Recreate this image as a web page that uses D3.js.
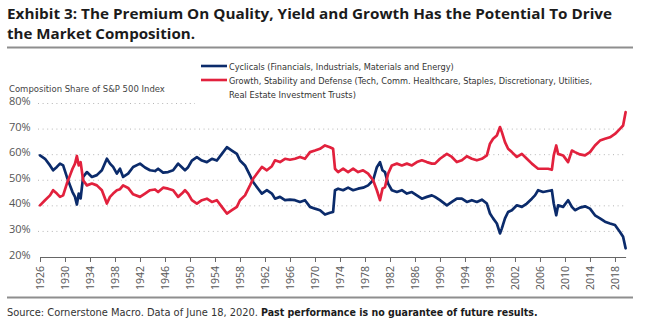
<!DOCTYPE html>
<html>
<head>
<meta charset="utf-8">
<script src="https://cdnjs.cloudflare.com/ajax/libs/d3/7.8.5/d3.min.js"></script>
<style>
    body { margin: 0; background: #fff; }
    text { font-family: "Open Sans", "Liberation Sans", sans-serif; }
    .narrow { font-family: "Liberation Sans Narrow", "DejaVu Sans Condensed", "Open Sans", sans-serif; }
</style>
</head>
<body>
<div id="chart"></div>
<script>
// decimal years
const years = [1926.0, 1926.8, 1927.6, 1928.1, 1928.7, 1929.2, 1929.7, 1930.3, 1930.8, 1931.2,
    1931.6, 1931.9, 1932.2, 1932.5, 1932.9, 1933.5, 1934.3, 1935.1, 1935.9, 1936.7,
    1937.2, 1937.7, 1938.3, 1938.8, 1939.3, 1940.1, 1940.9, 1942.0, 1942.8, 1943.6,
    1944.4, 1944.9, 1945.7, 1946.5, 1947.3, 1948.1, 1948.7, 1949.2, 1949.7, 1950.3,
    1951.1, 1951.9, 1952.7, 1953.5, 1954.3, 1955.1, 1955.9, 1956.7, 1957.5, 1958.0,
    1958.8, 1959.6, 1960.1, 1960.9, 1961.5, 1962.3, 1963.1, 1963.6, 1964.4, 1965.2,
    1966.0, 1966.8, 1967.6, 1968.4, 1969.2, 1970.0, 1970.8, 1971.6, 1972.4, 1972.9,
    1973.2, 1973.7, 1974.5, 1975.3, 1976.1, 1976.9, 1977.7, 1978.5, 1979.3, 1979.9,
    1980.4, 1980.8, 1981.2, 1981.7, 1982.3, 1983.1, 1983.9, 1984.7, 1985.5, 1986.3,
    1987.1, 1987.9, 1988.7, 1989.2, 1990.0, 1991.1, 1991.9, 1992.7, 1993.5, 1994.3,
    1995.1, 1995.9, 1996.7, 1997.5, 1998.0, 1998.5, 1999.1, 1999.6, 1999.9, 2000.4,
    2000.9, 2001.5, 2002.3, 2003.1, 2003.9, 2004.7, 2005.2, 2005.7, 2006.5, 2007.3,
    2007.9, 2008.2, 2008.6, 2008.9, 2009.7, 2010.5, 2011.1, 2011.6, 2012.4, 2013.2,
    2014.0, 2014.8, 2015.6, 2016.4, 2017.2, 2018.0, 2018.8, 2019.3, 2019.7];

// Cyclicals share (%)
const cyclicals = [59.7, 58.4, 55.8, 53.9, 55.2, 56.5, 55.8, 51.3, 48.0, 45.4,
    43.5, 40.5, 44.8, 42.9, 51.3, 53.2, 51.3, 52.0, 53.9, 58.4,
    56.5, 55.2, 52.6, 54.5, 51.3, 52.6, 55.2, 56.5, 55.0, 53.9,
    53.6, 54.5, 53.0, 53.2, 53.9, 56.5, 55.1, 53.9, 55.1, 57.7,
    59.0, 57.7, 57.1, 58.4, 57.7, 60.3, 62.9, 61.6, 60.3, 57.7,
    55.8, 51.9, 49.3, 46.7, 44.8, 46.1, 44.8, 42.8, 43.5, 42.2,
    42.4, 42.2, 41.5, 42.2, 39.6, 38.9, 38.3, 36.6, 37.3, 37.6,
    46.1, 46.7, 46.1, 47.1, 46.1, 46.7, 47.1, 48.0, 50.0, 55.1,
    57.1, 53.9, 53.2, 48.7, 46.1, 45.4, 46.1, 44.8, 45.4, 44.1,
    42.8, 43.5, 44.1, 43.5, 42.2, 40.2, 41.5, 42.8, 42.8, 41.5,
    42.2, 41.5, 42.4, 40.9, 37.0, 35.1, 33.1, 29.2, 31.2, 35.1,
    37.6, 38.3, 40.2, 39.6, 40.9, 42.8, 44.1, 46.1, 45.4, 45.8,
    46.1, 40.9, 36.3, 40.2, 39.6, 42.2, 39.6, 38.3, 39.3, 39.8,
    38.9, 36.3, 35.1, 33.8, 33.1, 32.5, 29.8, 27.9, 23.4];

// Growth, Stability and Defense share (%)
const growth = [40.2, 42.2, 44.1, 46.1, 44.8, 43.5, 44.1, 48.7, 51.9, 54.5,
    56.5, 59.5, 55.8, 57.1, 50.0, 48.0, 48.7, 48.0, 46.1, 40.9,
    43.5, 44.8, 46.1, 46.5, 48.0, 47.0, 44.5, 43.5, 44.8, 46.1,
    46.4, 45.4, 47.1, 46.7, 46.1, 43.5, 44.8, 46.1, 44.8, 42.2,
    40.9, 42.2, 42.8, 41.5, 42.2, 39.6, 37.0, 38.3, 39.6, 42.2,
    44.1, 48.0, 50.6, 53.2, 55.2, 53.9, 55.5, 57.8, 57.1, 58.4,
    58.0, 58.4, 59.1, 58.4, 61.0, 61.6, 62.3, 63.6, 62.9, 62.3,
    54.5, 53.2, 54.5, 53.2, 54.5, 53.2, 53.9, 52.6, 50.0, 46.1,
    42.2, 46.7, 47.3, 52.6, 55.8, 56.5, 55.8, 56.5, 55.8, 57.1,
    57.8, 57.1, 56.5, 56.5, 58.4, 60.3, 59.1, 57.1, 57.8, 59.4,
    58.4, 57.8, 58.4, 59.7, 64.3, 66.2, 67.5, 70.8, 68.8, 64.9,
    62.3, 61.0, 59.1, 60.3, 58.4, 56.5, 55.5, 54.5, 54.5, 54.5,
    54.1, 59.7, 63.6, 60.3, 59.7, 57.1, 61.6, 61.0, 60.1, 59.7,
    61.0, 63.6, 65.5, 66.2, 66.8, 68.1, 70.1, 71.4, 76.6];

const yTicks = [20, 30, 40, 50, 60, 70, 80];
const xTicks = [1926, 1930, 1934, 1938, 1942, 1946, 1950, 1954, 1958, 1962, 1966, 1970,
    1974, 1978, 1982, 1986, 1990, 1994, 1998, 2002, 2006, 2010, 2014, 2018];

const seriesNames = ["Cyclicals (Financials, Industrials, Materials and Energy)",
    "Growth, Stability and Defense (Tech, Comm. Healthcare, Staples, Discretionary, Utilities,"];

const colors = ["#0b2b6b", "#e2213d"];

// size a text so that it spans the measured width
function fit(sel, w) {
    let node = sel.node();
    let size = parseFloat(sel.style("font-size"));
    let len = node.getComputedTextLength();
    if (len > 0) sel.style("font-size", (size * w / len).toFixed(2) + "px");
}

let width = 646, height = 336;
let svg = d3.select("#chart").append("svg")
    .attr("width", width)
    .attr("height", height);

// title
let t1 = svg.append("text").attr("x", 7).attr("y", 18.5)
    .style("font-size", "15px").style("font-weight", "bold").attr("fill", "#1b1b1b")
    .text("Exhibit 3: The Premium On Quality, Yield and Growth Has the Potential To Drive")
    .attr("textLength", 605).attr("lengthAdjust", "spacingAndGlyphs");
let t2 = svg.append("text").attr("x", 7).attr("y", 38.5)
    .style("font-size", "15px").style("font-weight", "bold").attr("fill", "#1b1b1b")
    .text("the Market Composition.")
    .attr("textLength", 188).attr("lengthAdjust", "spacingAndGlyphs");

svg.append("line").attr("x1", 7).attr("x2", 633).attr("y1", 47.5).attr("y2", 47.5)
    .attr("stroke", "#8e8e8e").attr("stroke-width", 2);
svg.append("line").attr("x1", 7).attr("x2", 633).attr("y1", 297.5).attr("y2", 297.5)
    .attr("stroke", "#8e8e8e").attr("stroke-width", 2);

// scales
let x = d3.scaleLinear().domain([1926, 2019.7]).range([40, 625.6]);
let y = d3.scaleLinear().domain([20, 80]).range([257, 103.5]);

// dotted grid
svg.selectAll(".grid")
    .data(yTicks.filter(d => d > 20))
    .enter().append("line")
    .attr("class", "grid")
    .attr("x1", 38)
    .attr("x2", d => d === 80 ? 195 : 624)
    .attr("y1", d => y(d)).attr("y2", d => y(d))
    .attr("stroke", "#b5b5b5")
    .attr("stroke-width", 1)
    .attr("stroke-dasharray", "1,3.6");

// y labels
svg.selectAll(".ylab")
    .data(yTicks)
    .enter().append("text")
    .attr("class", "ylab")
    .attr("x", 9)
    .attr("y", d => y(d) + 1.5)
    .attr("fill", "#555")
    .style("font-size", "11px")
    .text(d => d + "%");

let comp = svg.append("text").attr("class", "narrow")
    .attr("x", 9).attr("y", 91.5)
    .attr("fill", "#444").style("font-size", "11px")
    .text("Composition Share of S&P 500 Index");
fit(comp, 156);

// x axis
let xAxis = d3.axisBottom(x)
    .tickValues(xTicks)
    .tickFormat(d => d)
    .tickSizeInner(5)
    .tickSizeOuter(0);

let gx = svg.append("g")
    .attr("class", "x-axis")
    .attr("transform", `translate(0,${y(20)})`)
    .call(xAxis);
gx.select(".domain").attr("stroke", "#666");
gx.selectAll(".tick line").attr("stroke", "#666");
gx.selectAll(".tick text")
    .attr("transform", "rotate(-90)")
    .attr("x", -9)
    .attr("y", 0)
    .attr("dy", "0.35em")
    .style("text-anchor", "end")
    .style("font-family", "'Open Sans', sans-serif")
    .style("font-size", "10.5px")
    .attr("fill", "#555");

// lines
let line = d3.line()
    .x(d => x(d.year))
    .y(d => y(d.value));

let series = [cyclicals, growth].map(vals => vals.map((v, i) => ({year: years[i], value: v})));

svg.selectAll(".series")
    .data(series)
    .enter().append("path")
    .attr("class", "series")
    .attr("d", line)
    .attr("fill", "none")
    .attr("stroke", (d, i) => colors[i])
    .attr("stroke-width", 2.7)
    .attr("stroke-linejoin", "round")
    .attr("stroke-linecap", "round");

// legend
let legend = svg.selectAll(".legend")
    .data(seriesNames)
    .enter().append("g")
    .attr("class", "legend")
    .attr("transform", (d, i) => `translate(0,${66 + i * 14})`);

legend.append("line")
    .attr("x1", 201).attr("x2", 227)
    .attr("stroke", (d, i) => colors[i])
    .attr("stroke-width", 2.6);

legend.append("text")
    .attr("class", "narrow")
    .attr("x", 229)
    .attr("y", 3.8)
    .attr("fill", "#333")
    .style("font-size", "11px")
    .text(d => d)
    .each(function(d, i) { fit(d3.select(this), i === 0 ? 225 : 364); });

let leg3 = svg.append("text").attr("class", "narrow")
    .attr("x", 229).attr("y", 97.8)
    .attr("fill", "#333").style("font-size", "11px")
    .text("Real Estate Investment Trusts)");
fit(leg3, 127);

// source
let s1 = svg.append("text").attr("class", "narrow")
    .attr("x", 7).attr("y", 316)
    .attr("fill", "#333").style("font-size", "12px")
    .text("Source: Cornerstone Macro. Data of June 18, 2020.");
fit(s1, 251);
let s2 = svg.append("text").attr("class", "narrow")
    .attr("x", 261).attr("y", 316)
    .attr("fill", "#1b1b1b").style("font-size", "12px").style("font-weight", "bold")
    .text("Past performance is no guarantee of future results.");
fit(s2, 277);
</script>
</body>
</html>
